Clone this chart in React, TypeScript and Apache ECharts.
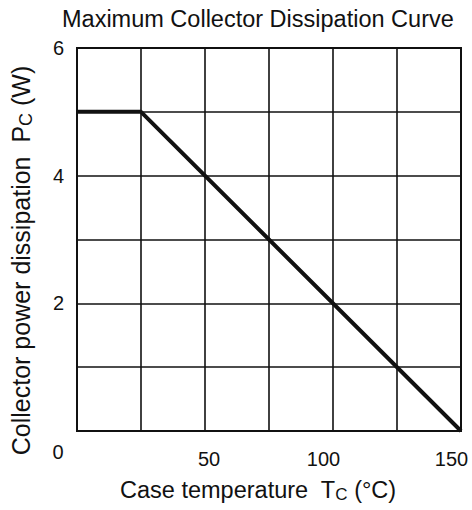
import React, { useEffect, useRef } from "react";
import * as echarts from "echarts";

const titleText = "Maximum Collector Dissipation Curve";
const xTemps = [0, 25, 150];
const pcValues = [5, 5, 0];
const xTickLabels = [0, 50, 100, 150];
const yTickLabels = [2, 4, 6];

const FONT = "Liberation Sans, Arial, Helvetica, sans-serif";

export default function App() {
  const ref = useRef<HTMLDivElement>(null);
  useEffect(() => {
    if (!ref.current) return;
    const chart = echarts.init(ref.current, undefined, { renderer: "svg" });
    const data = xTemps.map((x, i) => [x, pcValues[i]]);
    chart.setOption({
      animation: false,
      backgroundColor: "#fff",
      title: {
        text: titleText,
        left: 57,
        top: 2,
        textStyle: { fontFamily: FONT, fontSize: 23.5, fontWeight: "normal", color: "#111" },
      },
      grid: { left: 77, right: 11, top: 48, bottom: 79, show: true, borderColor: "#111", borderWidth: 2 },
      xAxis: {
        type: "value",
        min: 0,
        max: 150,
        interval: 25,
        name: "Case temperature  T{s|C} (°C)",
        nameLocation: "middle",
        nameGap: 46,
        nameTextStyle: {
          fontFamily: FONT,
          fontSize: 23.5,
          color: "#111",
          padding: [0, 22, 0, 0],
          rich: { s: { fontFamily: FONT, fontSize: 17, color: "#111", padding: [9, 0, 0, 0] } },
        },
        axisLine: { show: true, lineStyle: { color: "#111", width: 2 } },
        axisTick: { show: false },
        splitLine: { show: true, lineStyle: { color: "#111", width: 1.6 } },
        axisLabel: {
          margin: 18,
          fontFamily: FONT,
          fontSize: 20,
          color: "#111",
          formatter: (v: number) => {
            if (!xTickLabels.includes(v)) return "";
            if (v === 0) return "{z|" + v + "}";
            if (v === 50) return "{a|" + v + "}";
            return "{b|" + v + "}";
          },
          rich: {
            z: { fontFamily: FONT, fontSize: 20, color: "#111", padding: [0, 38, 0, 0], lineHeight: 6 },
            a: { fontFamily: FONT, fontSize: 20, color: "#111", padding: [0, 0, 0, 8] },
            b: { fontFamily: FONT, fontSize: 20, color: "#111", padding: [0, 19, 0, 0] },
          },
        },
      },
      yAxis: {
        type: "value",
        min: 0,
        max: 6,
        interval: 1,
        name: "Collector power dissipation  P{s|C} (W)",
        nameLocation: "middle",
        nameGap: 42,
        nameTextStyle: {
          fontFamily: FONT,
          fontSize: 25,
          color: "#111",
          padding: [0, 42, 0, 0],
          rich: { s: { fontFamily: FONT, fontSize: 18, color: "#111", padding: [10, 0, 0, 0] } },
        },
        axisLine: { show: true, lineStyle: { color: "#111", width: 2 } },
        axisTick: { show: false },
        splitLine: { show: true, lineStyle: { color: "#111", width: 1.6 } },
        axisLabel: {
          margin: 13,
          fontFamily: FONT,
          fontSize: 20,
          color: "#111",
          formatter: (v: number) => (yTickLabels.includes(v) ? String(v) : ""),
          padding: [10, 0, 0, 0],
        },
      },
      series: [
        {
          type: "line",
          data,
          symbol: "none",
          lineStyle: { color: "#111", width: 4 },
          z: 5,
        },
      ],
    });
    return () => chart.dispose();
  }, []);
  return (
    <div
      ref={ref}
      style={{ position: "fixed", left: 0, top: 0, width: 472, height: 510, background: "#fff" }}
    />
  );
}
